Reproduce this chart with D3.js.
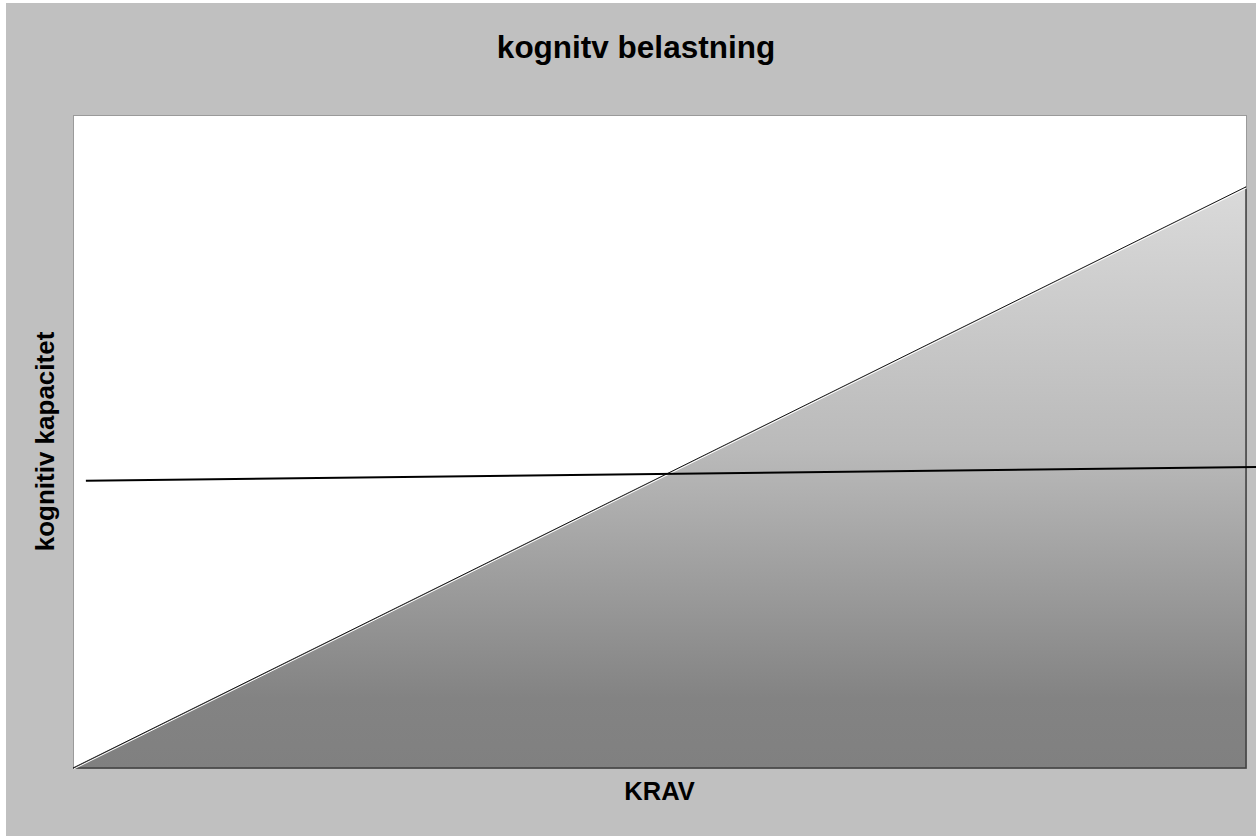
<!DOCTYPE html>
<html>
<head>
<meta charset="utf-8">
<script src="https://cdn.jsdelivr.net/npm/d3@7"></script>
<style>
  html, body { margin: 0; padding: 0; background: #ffffff; }
  svg { display: block; }
  text { font-family: "Liberation Sans", Arial, sans-serif; font-weight: bold; fill: #000; }
</style>
</head>
<body>
<svg id="chart" width="1256" height="836"></svg>
<script>
// ---- data ----
const chartTitle = "kognitv belastning";
const xAxisTitle = "KRAV";
const yAxisTitle = "kognitiv kapacitet";
// demand (KRAV) domain and the load area series (rises linearly with demand)
const xDomain = [0, 10];
const yDomain = [0, 100];
const loadX = [0, 10];
const loadY = [0, 89];
// cognitive capacity line (nearly flat)
const capacityX = [0.11, 10.09];
const capacityY = [44.0, 46.1];

// ---- layout ----
const W = 1256, H = 836;
const plot = { left: 73, top: 115, right: 1246, bottom: 768 };

const svg = d3.select("#chart");

// chart background
svg.append("rect").attr("x", 6).attr("y", 3).attr("width", W - 6).attr("height", H - 3)
  .attr("fill", "#c0c0c0");

// plot area
svg.append("rect").attr("x", plot.left).attr("y", plot.top)
  .attr("width", plot.right - plot.left).attr("height", plot.bottom - plot.top)
  .attr("fill", "#ffffff").attr("stroke", "#9a9a9a").attr("stroke-width", 1)
  .attr("shape-rendering", "crispEdges");

const x = d3.scaleLinear().domain(xDomain).range([plot.left, plot.right]);
const y = d3.scaleLinear().domain(yDomain).range([plot.bottom, plot.top]);

// gradient
const defs = svg.append("defs");
const grad = defs.append("linearGradient").attr("id", "loadGrad")
  .attr("x1", 0).attr("y1", 0).attr("x2", 0).attr("y2", 1);
grad.append("stop").attr("offset", "0%").attr("stop-color", "#dadada");
grad.append("stop").attr("offset", "45%").attr("stop-color", "#bababa");
grad.append("stop").attr("offset", "88%").attr("stop-color", "#838383");
grad.append("stop").attr("offset", "100%").attr("stop-color", "#808080");

const loadData = loadX.map((v, i) => ({ x: v, y: loadY[i] }));
const area = d3.area().x(d => x(d.x)).y0(y(0)).y1(d => y(d.y));
svg.append("path").datum(loadData).attr("d", area).attr("fill", "url(#loadGrad)");

// right and bottom edges of the area
const last = loadData[loadData.length - 1];
svg.append("path")
  .attr("d", d3.line()([[x(last.x), y(last.y)], [x(last.x), y(0)], [x(loadData[0].x), y(0)]]))
  .attr("fill", "none").attr("stroke", "#404040").attr("stroke-width", 1.5);

// hypotenuse (dark line with white highlight under it)
const line = d3.line().x(d => x(d.x)).y(d => y(d.y));
svg.append("path").datum(loadData).attr("d", line)
  .attr("transform", "translate(0.8,1)")
  .attr("fill", "none").attr("stroke", "#ffffff").attr("stroke-width", 1);
svg.append("path").datum(loadData).attr("d", line)
  .attr("fill", "none").attr("stroke", "#1a1a1a").attr("stroke-width", 1);

// capacity line
const capData = capacityX.map((v, i) => ({ x: v, y: capacityY[i] }));
svg.append("path").datum(capData).attr("d", line)
  .attr("fill", "none").attr("stroke", "#000000").attr("stroke-width", 2);

// titles
svg.append("text").attr("x", 636).attr("y", 58).attr("text-anchor", "middle")
  .attr("font-size", 31.5).text(chartTitle);
svg.append("text").attr("x", (plot.left + plot.right) / 2).attr("y", 800)
  .attr("text-anchor", "middle").attr("font-size", 25.5).text(xAxisTitle);
svg.append("text")
  .attr("transform", `translate(54,${(plot.top + plot.bottom) / 2}) rotate(-90)`)
  .attr("text-anchor", "middle").attr("font-size", 26).text(yAxisTitle);
</script>
</body>
</html>
